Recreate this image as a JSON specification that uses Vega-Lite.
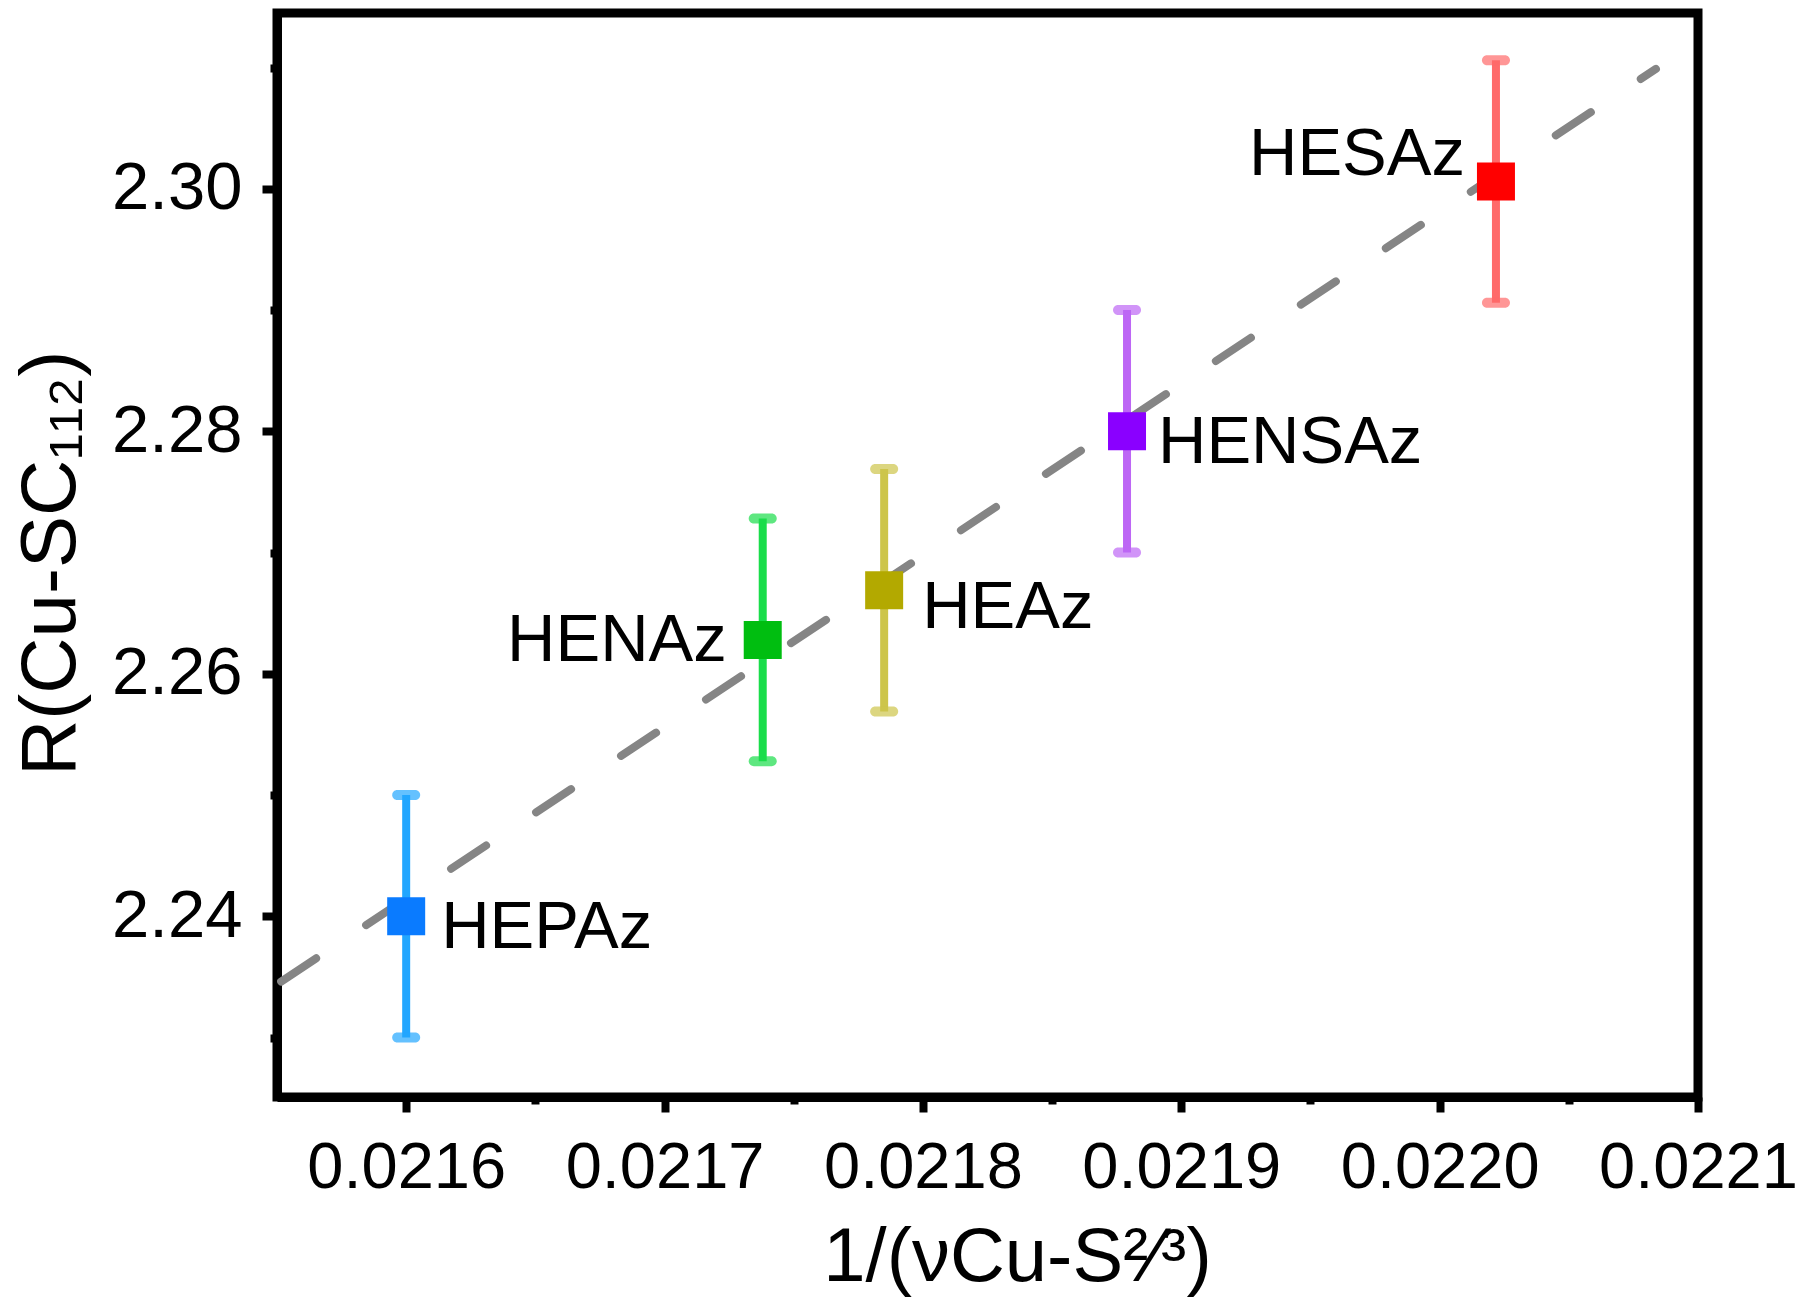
{
  "$schema": "https://vega.github.io/schema/vega-lite/v6.json",
  "width": 1421,
  "height": 1084,
  "autosize": {"type": "none"},
  "padding": {"left": 277, "top": 13, "right": 102, "bottom": 210},
  "background": "white",
  "config": {
    "font": "Liberation Sans",
    "view": {"stroke": "black", "strokeWidth": 9},
    "axis": {
      "grid": false,
      "domainColor": "black",
      "domainWidth": 9,
      "tickColor": "black",
      "tickWidth": 8,
      "labelFont": "Liberation Sans",
      "labelFontSize": 67,
      "labelColor": "black",
      "labelLimit": 0,
      "titleFont": "Liberation Sans",
      "titleColor": "black",
      "titleFontWeight": "normal",
      "titleLimit": 0,
      "labelOverlap": false,
      "labelFlush": false
    }
  },
  "datasets": {
    "pts": [
      {"sample": "HEPAz", "x": 0.0216, "y": 2.2400, "lo": 2.2300, "hi": 2.2500},
      {"sample": "HENAz", "x": 0.021738, "y": 2.2628, "lo": 2.2528, "hi": 2.2728},
      {"sample": "HEAz", "x": 0.021785, "y": 2.2669, "lo": 2.2569, "hi": 2.2769},
      {"sample": "HENSAz", "x": 0.021879, "y": 2.2800, "lo": 2.2700, "hi": 2.2900},
      {"sample": "HESAz", "x": 0.0220218, "y": 2.3006, "lo": 2.2906, "hi": 2.3106}
    ],
    "fit": [
      {"x": 0.0215516, "y": 2.23462},
      {"x": 0.0220837, "y": 2.30989}
    ]
  },
  "resolve": {"scale": {"color": "independent"}},
  "layer": [
    {
      "data": {"name": "fit"},
      "mark": {"type": "line", "color": "#858585", "strokeWidth": 8, "strokeDash": [42, 60], "strokeCap": "round", "clip": true},
      "encoding": {
        "x": {
          "field": "x", "type": "quantitative",
          "scale": {"domain": [0.02155, 0.0221], "nice": false, "zero": false},
          "axis": {
            "values": [0.0216, 0.02165, 0.0217, 0.02175, 0.0218, 0.02185, 0.0219, 0.02195, 0.022, 0.02205, 0.0221],
            "labelExpr": "round(datum.value*100000) % 10 === 0 ? format(datum.value, '.4f') : ''",
            "tickSize": {"condition": {"test": "round(datum.value*100000) % 10 === 0", "value": 15}, "value": 7},
            "labelFontSize": 65,
            "labelPadding": 24,
            "title": "1/(νCu-S²⁄³)",
            "titleFontSize": 76,
            "titleX": 740,
            "titleY": 183,
            "titleAlign": "center",
            "titleBaseline": "alphabetic"
          }
        },
        "y": {
          "field": "y", "type": "quantitative",
          "scale": {"domain": [2.2251, 2.3145], "nice": false, "zero": false},
          "axis": {
            "values": [2.23, 2.24, 2.25, 2.26, 2.27, 2.28, 2.29, 2.30, 2.31],
            "labelExpr": "round(datum.value*100) % 2 === 0 ? format(datum.value, '.2f') : ''",
            "tickSize": {"condition": {"test": "round(datum.value*100) % 2 === 0", "value": 15}, "value": 7},
            "labelPadding": 20,
            "title": "R(Cu-SC₁₁₂)",
            "titleFontSize": 78,
            "titleAngle": -90,
            "titleX": -203,
            "titleY": 550,
            "titleAlign": "center",
            "titleBaseline": "alphabetic"
          }
        }
      }
    },
    {
      "data": {"name": "pts"},
      "mark": {"type": "rule", "strokeWidth": 8},
      "encoding": {
        "x": {"field": "x", "type": "quantitative"},
        "y": {"field": "lo", "type": "quantitative"},
        "y2": {"field": "hi"},
        "color": {"field": "sample", "type": "nominal", "legend": null,
          "scale": {"domain": ["HEPAz", "HENAz", "HEAz", "HENSAz", "HESAz"], "range": ["#22A6FF", "#19DD4A", "#CDC54A", "#BD66F5", "#FF6A6A"]}}
      }
    },
    {
      "data": {"name": "pts"},
      "mark": {"type": "tick", "orient": "horizontal", "size": 28, "thickness": 10, "cornerRadius": 5},
      "encoding": {
        "x": {"field": "x", "type": "quantitative"},
        "y": {"field": "lo", "type": "quantitative"},
        "color": {"field": "sample", "type": "nominal", "legend": null,
          "scale": {"domain": ["HEPAz", "HENAz", "HEAz", "HENSAz", "HESAz"], "range": ["#22A6FF", "#19DD4A", "#CDC54A", "#BD66F5", "#FF6A6A"]}}
      }
    },
    {
      "data": {"name": "pts"},
      "mark": {"type": "tick", "orient": "horizontal", "size": 28, "thickness": 10, "cornerRadius": 5},
      "encoding": {
        "x": {"field": "x", "type": "quantitative"},
        "y": {"field": "hi", "type": "quantitative"},
        "color": {"field": "sample", "type": "nominal", "legend": null,
          "scale": {"domain": ["HEPAz", "HENAz", "HEAz", "HENSAz", "HESAz"], "range": ["#22A6FF", "#19DD4A", "#CDC54A", "#BD66F5", "#FF6A6A"]}}
      }
    },
    {
      "data": {"name": "pts"},
      "mark": {"type": "point", "shape": "square", "filled": true, "size": 1444, "opacity": 1},
      "encoding": {
        "x": {"field": "x", "type": "quantitative"},
        "y": {"field": "y", "type": "quantitative"},
        "color": {"field": "sample", "type": "nominal", "legend": null,
          "scale": {"domain": ["HEPAz", "HENAz", "HEAz", "HENSAz", "HESAz"], "range": ["#0A7BFF", "#00BE10", "#B3A900", "#8A00FF", "#FF0000"]}}
      }
    },
    {
      "data": {"name": "pts"},
      "transform": [{"filter": "datum.sample === 'HESAz'"}],
      "mark": {"type": "text", "align": "right", "baseline": "alphabetic", "fontSize": 67, "font": "Liberation Sans", "color": "black", "dx": -31, "dy": -7},
      "encoding": {
        "x": {"field": "x", "type": "quantitative"},
        "y": {"field": "y", "type": "quantitative"},
        "text": {"field": "sample"}
      }
    },
    {
      "data": {"name": "pts"},
      "transform": [{"filter": "datum.sample === 'HENAz'"}],
      "mark": {"type": "text", "align": "right", "baseline": "alphabetic", "fontSize": 67, "font": "Liberation Sans", "color": "black", "dx": -36, "dy": 21},
      "encoding": {
        "x": {"field": "x", "type": "quantitative"},
        "y": {"field": "y", "type": "quantitative"},
        "text": {"field": "sample"}
      }
    },
    {
      "data": {"name": "pts"},
      "transform": [{"filter": "datum.sample === 'HENSAz'"}],
      "mark": {"type": "text", "align": "left", "baseline": "alphabetic", "fontSize": 67, "font": "Liberation Sans", "color": "black", "dx": 31, "dy": 32},
      "encoding": {
        "x": {"field": "x", "type": "quantitative"},
        "y": {"field": "y", "type": "quantitative"},
        "text": {"field": "sample"}
      }
    },
    {
      "data": {"name": "pts"},
      "transform": [{"filter": "datum.sample === 'HEAz'"}],
      "mark": {"type": "text", "align": "left", "baseline": "alphabetic", "fontSize": 67, "font": "Liberation Sans", "color": "black", "dx": 38, "dy": 38},
      "encoding": {
        "x": {"field": "x", "type": "quantitative"},
        "y": {"field": "y", "type": "quantitative"},
        "text": {"field": "sample"}
      }
    },
    {
      "data": {"name": "pts"},
      "transform": [{"filter": "datum.sample === 'HEPAz'"}],
      "mark": {"type": "text", "align": "left", "baseline": "alphabetic", "fontSize": 67, "font": "Liberation Sans", "color": "black", "dx": 35, "dy": 32},
      "encoding": {
        "x": {"field": "x", "type": "quantitative"},
        "y": {"field": "y", "type": "quantitative"},
        "text": {"field": "sample"}
      }
    }
  ]
}
